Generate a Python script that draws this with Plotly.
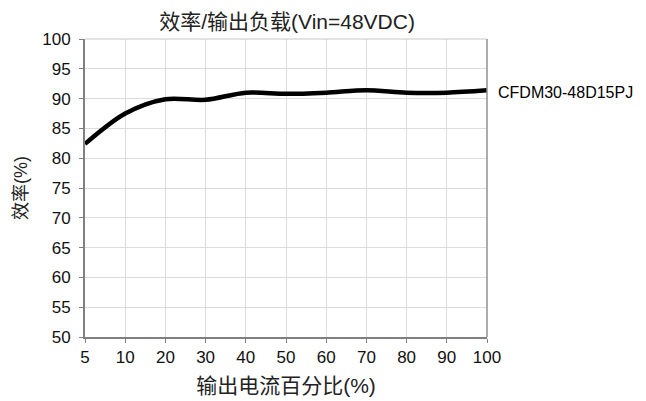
import plotly.graph_objects as go

categories = ["5", "10", "20", "30", "40", "50", "60", "70", "80", "90", "100"]
efficiency = [82.4, 87.5, 89.9, 89.8, 91.0, 90.8, 91.0, 91.4, 91.0, 91.0, 91.4]
series_name = "CFDM30-48D15PJ"
y_ticks = [50, 55, 60, 65, 70, 75, 80, 85, 90, 95, 100]

FONT = "Liberation Sans, Arial, Noto Sans CJK SC, sans-serif"
idx = list(range(len(categories)))

fig = go.Figure()
fig.add_trace(go.Scatter(
    x=idx, y=efficiency, mode="lines", name=series_name,
    line=dict(color="black", width=4.5, shape="spline", smoothing=0.9),
    showlegend=False,
))
fig.add_annotation(
    x=idx[-1], y=efficiency[-1], text=series_name, showarrow=False,
    xanchor="left", yanchor="middle", xshift=9, yshift=-2,
    font=dict(family=FONT, size=16, color="black"),
)
# top / right frame
fig.add_shape(type="line", xref="paper", yref="paper", x0=0, x1=1, y0=1, y1=1,
              line=dict(color="#c8c8c8", width=1))
fig.add_shape(type="line", xref="paper", yref="paper", x0=1, x1=1, y0=0, y1=1,
              line=dict(color="#909090", width=1.5))

fig.update_layout(
    width=646, height=401,
    margin=dict(l=75, r=167, t=31, b=72),
    paper_bgcolor="white", plot_bgcolor="white",
    title=dict(text="效率/输出负载(Vin=48VDC)", x=0.432, xanchor="center",
               y=0.966, yanchor="middle",
               font=dict(family=FONT, size=21, color="#222")),
    font=dict(family=FONT, color="black"),
)
fig.update_xaxes(
    range=[0, 10], tickmode="array", tickvals=idx, ticktext=categories,
    showgrid=True, gridcolor="#dcdcdc", gridwidth=1,
    showline=True, linecolor="#808080", linewidth=2,
    ticks="outside", ticklen=4, tickcolor="#808080",
    tickfont=dict(size=17, family=FONT, color="#111"),
    title=dict(text="输出电流百分比(%)", font=dict(size=21, family=FONT, color="#222"), standoff=12),
    zeroline=False,
)
fig.update_yaxes(
    range=[50, 100], tickmode="array", tickvals=y_ticks,
    showgrid=True, gridcolor="#dcdcdc", gridwidth=1,
    showline=True, linecolor="#808080", linewidth=2,
    ticks="outside", ticklen=4, tickcolor="#808080",
    ticklabelstandoff=5,
    tickfont=dict(size=17, family=FONT, color="#111"),
    title=dict(text="效率(%)", font=dict(size=18, family=FONT, color="#222"), standoff=10),
    zeroline=False,
)

fig.write_html("out.html")
